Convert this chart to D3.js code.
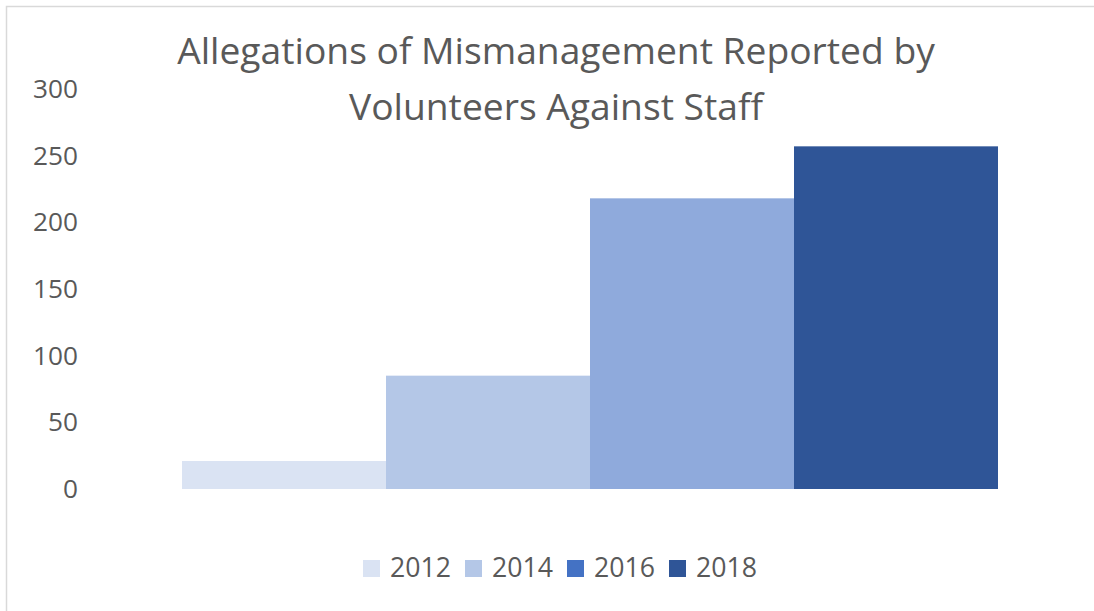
<!DOCTYPE html>
<html><head><meta charset="utf-8">
<script src="https://cdn.jsdelivr.net/npm/d3@7"></script>
<style>html,body{margin:0;padding:0;background:#fff;} svg{display:block;font-family:"Open Sans",sans-serif;}</style>
</head><body><svg id="chart" width="1094" height="611"></svg>
<script>
const titleLines = ["Allegations of Mismanagement Reported by", "Volunteers Against Staff"];
const categories = ["Allegations"];
const seriesNames = ["2012", "2014", "2016", "2018"];
const seriesValues = [21, 85, 218, 257];
const barColors = ["#DAE3F3", "#B4C7E7", "#8FAADC", "#2F5597"];
const legendColors = ["#DAE3F3", "#B4C7E7", "#4472C4", "#2F5597"];
const yTicks = [0, 50, 100, 150, 200, 250, 300];

const W = 1094, H = 611;
const textColor = "#595959";
const svg = d3.select("#chart");

svg.append("rect").attr("x", 6.5).attr("y", 6.5).attr("width", W + 20).attr("height", H + 20)
  .attr("fill", "#fff").attr("stroke", "#d9d9d9").attr("stroke-width", 1.5);

function fitSize(sel, target, start) {
  sel.style("font-size", start + "px");
  const w = sel.node().getComputedTextLength();
  const s = start * target / w;
  sel.style("font-size", s + "px");
  return s;
}

// Title
const t1 = svg.append("text").attr("x", 556).attr("y", 64).attr("text-anchor", "middle")
  .attr("fill", textColor).text(titleLines[0]);
const ts = fitSize(t1, 758, 32);
svg.append("text").attr("x", 556).attr("y", 120).attr("text-anchor", "middle")
  .attr("fill", textColor).style("font-size", ts + "px").text(titleLines[1]);

const plot = {left: 182, right: 998, top: 89, bottom: 489};
const y = d3.scaleLinear().domain([0, 300]).range([plot.bottom, plot.top]);
const x0 = d3.scaleBand().domain(categories).range([plot.left, plot.right]).padding(0);
const x1 = d3.scaleBand().domain(seriesNames).range([0, x0.bandwidth()]).padding(0);

// Y axis
const ax = svg.append("g").attr("transform", "translate(78,0)")
  .call(d3.axisLeft(y).tickValues(yTicks).tickSize(0).tickPadding(0));
ax.select(".domain").remove();
ax.selectAll("text").attr("fill", textColor).style("font-family", "'Open Sans',sans-serif");
const probe = ax.selectAll("text").filter(d => d === 300);
const as = fitSize(probe, 45, 26);
ax.selectAll("text").style("font-size", as + "px");

// Bars
const rows = seriesNames.map((s, i) => ({cat: categories[0], s, v: seriesValues[i], c: barColors[i]}));
svg.append("g").selectAll("rect").data(rows).join("rect")
  .attr("x", d => x0(d.cat) + x1(d.s))
  .attr("width", x1.bandwidth())
  .attr("y", d => y(d.v))
  .attr("height", d => y(0) - y(d.v))
  .attr("fill", d => d.c);

// Legend
const lg = svg.append("g");
const items = lg.selectAll("g").data(seriesNames).join("g")
  .attr("transform", (d, i) => `translate(${363 + i * 102},560)`);
items.append("rect").attr("width", 17).attr("height", 17).attr("fill", (d, i) => legendColors[i]);
items.append("text").attr("x", 27).attr("y", 17).attr("fill", textColor).text(d => d);
const ls = fitSize(items.select("text").filter((d, i) => i === 0), 61, 26);
items.selectAll("text").style("font-size", ls + "px");
</script>
</body></html>
